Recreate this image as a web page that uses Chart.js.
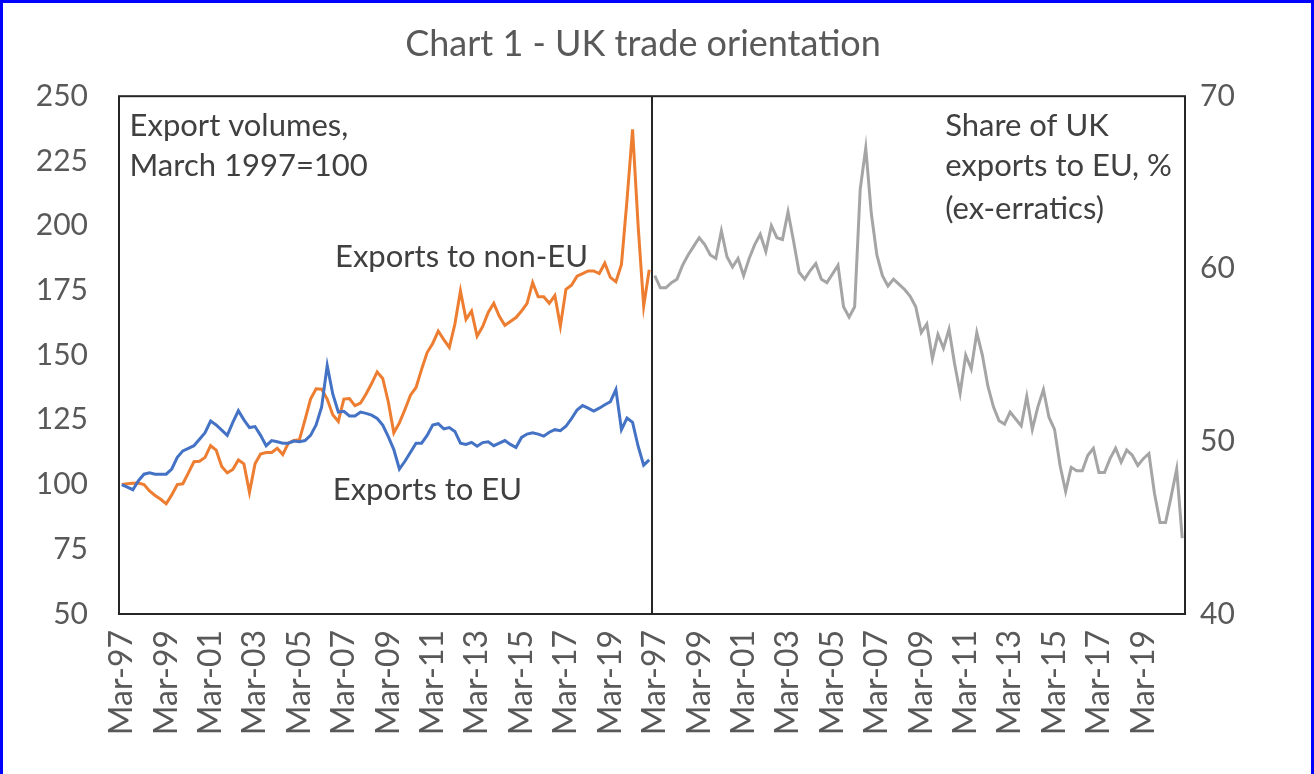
<!DOCTYPE html>
<html>
<head>
<meta charset="utf-8">
<script src="https://cdn.jsdelivr.net/npm/chart.js@4.4.1/dist/chart.umd.min.js"></script>
<style>
  html, body { margin: 0; padding: 0; background: #fff; }
  #wrap { position: relative; width: 1314px; height: 774px; }
  #frame {
    position: absolute; left: 0; top: 0; width: 1314px; height: 774px; box-sizing: border-box;
    border-top: 3px solid #0000ff; border-left: 3px solid #0000ff; border-right: 3px solid #0000ff;
    pointer-events: none;
  }
</style>
</head>
<body>
<div id="wrap">
  <canvas id="trade_chart" width="1314" height="774"></canvas>
  <div id="frame"></div>
</div>
<script>
// quarterly, Mar-97 .. Dec-20, March 1997 = 100
const euVolumes = [
    100, 99, 98, 101.5, 104, 104.5, 104, 104, 104, 106,
    110.5, 113, 114, 115, 117.5, 120, 124.5, 123, 121, 119,
    124, 128.5, 125, 122, 122.4, 119, 115, 117, 116.5, 116,
    116, 116.8, 116.5, 117, 119, 123, 130, 146, 135, 128,
    128.3, 126.5, 126.5, 128, 127.5, 126.8, 125.5, 123, 118.5, 113.5,
    106, 109, 112.5, 116, 116, 119, 123, 123.5, 121.5, 122,
    120.5, 116, 115.5, 116.3, 114.8, 116.2, 116.5, 115, 116, 117,
    115.5, 114.3, 118.2, 119.5, 120, 119.5, 118.7, 120.2, 121.2, 120.8,
    122.5, 125.5, 128.8, 130.5, 129.5, 128.4, 129.5, 130.8, 132, 136.7,
    121.2, 125.7, 124, 114.8, 107.5, 109.5
];
const nonEuVolumes = [
    100, 100.3, 100.5, 100.6, 100, 97.5, 95.8, 94.3, 92.6, 96,
    100, 100.3, 104.5, 108.8, 109, 110.5, 115, 113.3, 107, 104.5,
    105.8, 109.5, 108, 97, 108, 111.8, 112.4, 112.4, 114, 111.6,
    116, 117, 117.3, 125, 133, 137, 136.8, 133, 127, 124.4,
    133, 133.2, 130.5, 131.5, 135, 139, 143.5, 141, 132, 120,
    123.8, 129, 134.5, 137.5, 144.5, 151, 154.5, 159.3, 156, 153,
    162, 174.8, 163.8, 167, 157.3, 161, 166.5, 170, 165, 161.5,
    163, 164.5, 167, 170, 178, 172.5, 172.5, 170, 173, 161.2,
    175.4, 177, 180.5, 181.5, 182.5, 182.5, 181.5, 185.5, 180, 178.3,
    185, 210, 237.2, 200, 168.9, 183
];
// share of UK exports going to the EU, %, ex-erratics
const euShare = [
    59.6, 58.9, 58.9, 59.2, 59.4, 60.2, 60.8, 61.3, 61.8, 61.4,
    60.8, 60.6, 62.2, 60.7, 60.1, 60.6, 59.6, 60.6, 61.4, 62.0,
    61.0, 62.5, 61.8, 61.7, 63.3, 61.6, 59.8, 59.4, 59.9, 60.3,
    59.4, 59.2, 59.7, 60.2, 57.8, 57.2, 57.8, 64.6, 67.0, 63.2,
    60.8, 59.6, 59.0, 59.4, 59.1, 58.8, 58.4, 57.8, 56.3, 56.8,
    54.8, 56.2, 55.4, 56.5, 54.5, 52.8, 55.0, 54.2, 56.3, 55.0,
    53.2, 52.0, 51.2, 51.0, 51.7, 51.3, 50.9, 52.6, 50.7, 52.0,
    53.0, 51.4, 50.7, 48.6, 47.1, 48.5, 48.3, 48.3, 49.2, 49.6,
    48.2, 48.2, 49.0, 49.6, 48.8, 49.5, 49.2, 48.6, 49.0, 49.3,
    47.0, 45.3, 45.3, 46.8, 48.4, 44.4
];
const startYear = 1997;
const quarterMonths = ["Mar", "Jun", "Sep", "Dec"];

// both panels share one category axis: left panel then right panel
const quarters = [];
for (let y = startYear; quarters.length < euVolumes.length; y++) {
    quarterMonths.forEach(m => quarters.push(m + "-" + String(y).slice(2)));
}
const labels = quarters.concat(quarters);
const blanks = quarters.map(() => null);

const notes = [
    { text: "Export volumes,", i: 1.4, v: 238.3 },
    { text: "March 1997=100", i: 1.4, v: 223.2 },
    { text: "Exports to non-EU", i: 38.4, v: 187.7 },
    { text: "Exports to EU", i: 38.0, v: 98 },
    { text: "Share of UK", i: 148.3, v: 238.3 },
    { text: "exports to EU, %", i: 148.3, v: 223.2 },
    { text: "(ex-erratics)", i: 148.3, v: 206.3 }
];

const FONT = "Lato, 'Open Sans', sans-serif";

const panelFrame = {
    id: "panelFrame",
    afterDatasetsDraw(chart) {
        const { ctx, chartArea: a, scales } = chart;
        ctx.save();
        ctx.strokeStyle = "#262626";
        ctx.lineWidth = 2;
        ctx.strokeRect(a.left, a.top, a.right - a.left, a.bottom - a.top);
        const mid = Math.round((a.left + a.right) / 2);
        ctx.beginPath();
        ctx.moveTo(mid, a.top);
        ctx.lineTo(mid, a.bottom);
        ctx.stroke();

        ctx.fillStyle = "#404040";
        ctx.font = "31px " + FONT;
        ctx.textAlign = "left";
        ctx.textBaseline = "middle";
        notes.forEach(n => {
            ctx.fillText(n.text, scales.x.getPixelForValue(n.i), scales.yL.getPixelForValue(n.v));
        });
        ctx.restore();
    }
};

const ctx = document.getElementById("trade_chart").getContext("2d");
new Chart(ctx, {
    type: "line",
    data: {
        labels: labels,
        datasets: [
            {
                label: "Exports to EU",
                data: euVolumes.concat(blanks),
                yAxisID: "yL",
                borderColor: "#4472C4",
                borderWidth: 3
            },
            {
                label: "Exports to non-EU",
                data: nonEuVolumes.concat(blanks),
                yAxisID: "yL",
                borderColor: "#ED7D31",
                borderWidth: 3
            },
            {
                label: "Share of UK exports to EU, %",
                data: blanks.concat(euShare),
                yAxisID: "yR",
                borderColor: "#A5A5A5",
                borderWidth: 3
            }
        ]
    },
    options: {
        responsive: false,
        animation: false,
        spanGaps: false,
        elements: { point: { radius: 0 }, line: { tension: 0 } },
        layout: { padding: { left: 0, right: 28, top: 10, bottom: 0 } },
        plugins: {
            legend: { display: false },
            tooltip: { enabled: false },
            title: {
                display: true,
                text: "Chart 1 - UK trade orientation",
                color: "#595959",
                font: { family: FONT, size: 36, weight: "normal" },
                padding: { top: 13, bottom: 30 }
            }
        },
        scales: {
            x: {
                type: "category",
                offset: true,
                grid: { display: false, drawTicks: false },
                border: { display: false },
                afterFit: s => { s.height = 160; },
                ticks: {
                    autoSkip: false,
                    minRotation: 90,
                    maxRotation: 90,
                    padding: 16,
                    color: "#595959",
                    font: { family: FONT, size: 32 },
                    callback: function (value, index) {
                        return index % 8 === 0 ? this.getLabelForValue(value) : "";
                    }
                }
            },
            yL: {
                position: "left",
                min: 50,
                max: 250,
                grid: { display: false, drawTicks: false },
                border: { display: false },
                afterFit: s => { s.width = 119; },
                ticks: { stepSize: 25, padding: 31, color: "#595959", font: { family: FONT, size: 30 } }
            },
            yR: {
                position: "right",
                min: 40,
                max: 70,
                grid: { display: false, drawTicks: false },
                border: { display: false },
                afterFit: s => { s.width = 101; },
                ticks: { stepSize: 10, padding: 15, color: "#595959", font: { family: FONT, size: 30 } }
            }
        }
    },
    plugins: [panelFrame]
});
</script>
</body>
</html>
